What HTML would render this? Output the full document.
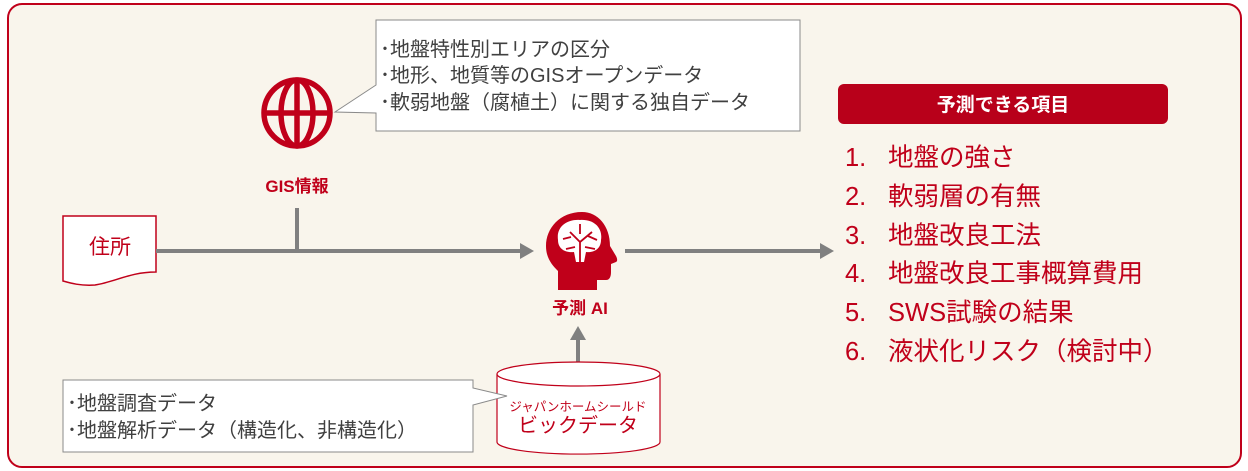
<!DOCTYPE html>
<html><head><meta charset="utf-8"><style>
html,body{margin:0;padding:0;background:#fff}
svg{display:block}
text{font-family:"Liberation Sans","Noto Sans CJK JP",sans-serif}
</style></head><body>
<svg width="1248" height="471" viewBox="0 0 1248 471" xmlns="http://www.w3.org/2000/svg">
<rect x="8" y="4" width="1233" height="463" rx="14" fill="#f9f5ec" stroke="#c0001a" stroke-width="2"/>
<path d="M376,20 H800 V131 H376 V113 L335,112 L376,85 Z" fill="#fff" stroke="#8a8a8a" stroke-width="1"/>
<g font-size="20" fill="#404040">
<text x="380" y="56">･地盤特性別エリアの区分</text>
<text x="380" y="82">･地形、地質等のGISオープンデータ</text>
<text x="380" y="109">･軟弱地盤（腐植土）に関する独自データ</text>
</g>
<g stroke="#c0001a" stroke-width="5.5" fill="none">
<circle cx="297" cy="113" r="33"/>
<ellipse cx="297" cy="113" rx="16" ry="33"/>
<line x1="297" y1="80" x2="297" y2="146"/>
<line x1="264" y1="113" x2="330" y2="113"/>
</g>
<text x="297" y="192" font-size="17" font-weight="bold" fill="#c0001a" text-anchor="middle">GIS情報</text>
<path d="M63,216 H156 V272 C130,272 115,282 95,285 C80,286 70,283 63,281 Z" fill="#fff" stroke="#c0001a" stroke-width="1.5"/>
<text x="110" y="254" font-size="21" fill="#c0001a" text-anchor="middle">住所</text>
<g stroke="#808080" stroke-width="4" fill="none">
<line x1="156" y1="251" x2="522" y2="251"/>
<line x1="297" y1="208" x2="297" y2="251"/>
<line x1="625" y1="251" x2="822" y2="251"/>
<line x1="578" y1="362" x2="578" y2="338"/>
</g>
<g fill="#808080">
<polygon points="520,243 534,251 520,259"/>
<polygon points="820,243 834,251 820,259"/>
<polygon points="570,340 578,326 586,340"/>
</g>
<g fill="#c0001a">
<path d="M582,212 C560,212 546,228 546,246 C546,258 552,265 558,271 V290 H597 V280 H606 C610,280 611,276 611,272 V264 L616,262 C618,261 617,258 616,256 L610,246 C610,226 598,212 582,212 Z"/>
</g>
<path d="M558,240 C556,226 568,219 580,220 C594,219 603,228 601,240 C601,250 592,253 586,252 L584,262 H576 L574,252 C564,253 558,248 558,240 Z" fill="#fff"/>
<g stroke="#c0001a" stroke-width="1.8" fill="none">
<path d="M580,262 V242 L570,232 M580,242 L592,232 M571,237 L563,239 M588,236 L597,240 M580,234 V224 M575,247 L566,249 M585,247 L595,249"/>
</g>
<text x="580" y="314" font-size="17" font-weight="bold" fill="#c0001a" text-anchor="middle">予測 AI</text>
<path d="M497,374 V442 A81,12 0 0 0 660,442 V374" fill="#fff" stroke="#c0001a" stroke-width="1.2"/>
<ellipse cx="578.5" cy="374" rx="81.5" ry="12" fill="#fff" stroke="#c0001a" stroke-width="1.2"/>
<text x="578" y="411" font-size="12.5" fill="#c0001a" text-anchor="middle">ジャパンホームシールド</text>
<text x="578" y="432" font-size="20" fill="#c0001a" text-anchor="middle">ビックデータ</text>
<path d="M63,380 H473 V388 L507,396 L473,405 V452 H63 Z" fill="#fff" stroke="#8a8a8a" stroke-width="1"/>
<g font-size="20" fill="#404040">
<text x="67" y="410">･地盤調査データ</text>
<text x="67" y="437">･地盤解析データ（構造化、非構造化）</text>
</g>
<rect x="838" y="84" width="330" height="40" rx="6" fill="#b8001a"/>
<text x="1003" y="111" font-size="19" font-weight="bold" fill="#fff" text-anchor="middle">予測できる項目</text>
<g font-size="25.5" fill="#c0001a">
<text x="845" y="166">1.</text><text x="888" y="166">地盤の強さ</text>
<text x="845" y="205">2.</text><text x="888" y="205">軟弱層の有無</text>
<text x="845" y="244">3.</text><text x="888" y="244">地盤改良工法</text>
<text x="845" y="282">4.</text><text x="888" y="282">地盤改良工事概算費用</text>
<text x="845" y="321">5.</text><text x="888" y="321">SWS試験の結果</text>
<text x="845" y="360">6.</text><text x="888" y="360">液状化リスク（検討中）</text>
</g>
</svg>
</body></html>
